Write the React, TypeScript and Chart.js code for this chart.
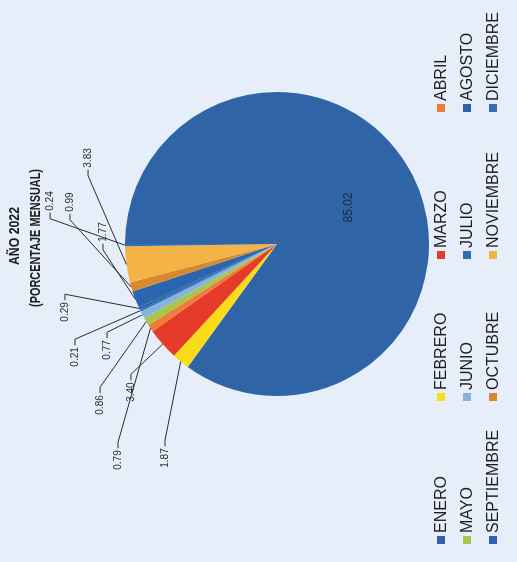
import React, { useEffect, useRef } from "react";
import { Chart, registerables } from "chart.js";

Chart.register(...registerables);

// ---- data ----
const months = [
  "ENERO", "FEBRERO", "MARZO", "ABRIL", "MAYO", "JUNIO",
  "JULIO", "AGOSTO", "SEPTIEMBRE", "OCTUBRE", "NOVIEMBRE", "DICIEMBRE",
];
const percentages = [85.02, 1.87, 3.4, 0.79, 0.86, 0.77, 0.21, 0.29, 1.77, 0.99, 3.83, 0.24];
const sliceColors = [
  "#2f65a6", "#f8dc1a", "#e63b2a", "#ef7c38", "#a9c64c", "#86b4e0",
  "#2f6cb3", "#2d63a8", "#2a66b0", "#d8892e", "#f4b347", "#3470b8",
];
const titleLines = ["AÑO 2022", "(PORCENTAJE MENSUAL)"];

// ---- layout (label callout positions, in pie-radius units from the centre) ----
const calloutOffsets: (number[] | null)[] = [
  null,
  [-1.408, -0.737],
  [-0.974, -0.961],
  [-1.421, -1.046],
  [-1.059, -1.164],
  [-0.697, -1.118],
  [-0.743, -1.329],
  [-0.447, -1.395],
  [0.079, -1.145],
  [0.276, -1.362],
  [0.566, -1.243],
  [0.283, -1.493],
];
const legendRows = [441, 467, 493];
const legendCols = [18, 161, 303, 450];
const W = 562;
const H = 517;

const overlayPlugin = {
  id: "overlay",
  afterDatasetsDraw(chart: any) {
    const ctx = chart.ctx as CanvasRenderingContext2D;
    const meta = chart.getDatasetMeta(0);
    ctx.save();
    meta.data.forEach((arc: any, i: number) => {
      const p = arc.getProps(["x", "y", "startAngle", "endAngle", "outerRadius"], true);
      const mid = (p.startAngle + p.endAngle) / 2;
      const R = p.outerRadius;
      const txt = percentages[i].toFixed(2);
      if (i === 0) {
        ctx.font = "12px 'Liberation Sans', Arial, sans-serif";
        ctx.fillStyle = "#1b2a3f";
        ctx.textAlign = "center";
        ctx.textBaseline = "middle";
        ctx.fillText(txt, p.x + Math.cos(mid) * R * 0.53, p.y + Math.sin(mid) * R * 0.53);
        return;
      }
      const off = calloutOffsets[i];
      if (!off) return;
      const lx = p.x + off[0] * R;
      const ly = p.y + off[1] * R;
      const tx = p.x + Math.cos(mid) * R;
      const ty = p.y + Math.sin(mid) * R;
      ctx.font = "10px 'Liberation Sans', Arial, sans-serif";
      const w = ctx.measureText(txt).width;
      ctx.fillStyle = "#2a2a2a";
      ctx.textAlign = "center";
      ctx.textBaseline = "middle";
      ctx.fillText(txt, lx, ly);
      const dir = tx > lx ? 1 : -1;
      const ax = lx + dir * (w / 2 + 2);
      ctx.strokeStyle = "#2b2b2b";
      ctx.lineWidth = 1;
      ctx.beginPath();
      ctx.moveTo(ax, ly);
      ctx.lineTo(ax + dir * 6, ly);
      ctx.lineTo(tx, ty);
      ctx.stroke();
    });
    ctx.restore();
  },
  afterDraw(chart: any) {
    const ctx = chart.ctx as CanvasRenderingContext2D;
    const meta = chart.getDatasetMeta(0);
    const cx = meta.data[0] ? meta.data[0].x : W / 2;
    ctx.save();
    // title
    ctx.fillStyle = "#1e1e1e";
    ctx.textAlign = "center";
    ctx.textBaseline = "alphabetic";
    ctx.font = "bold 15px 'Liberation Sans', Arial, sans-serif";
    ctx.fillText(titleLines[0], cx + 8, 19, 58);
    ctx.fillText(titleLines[1], cx + 6, 40, 138);
    // legend
    ctx.font = "16px 'Liberation Sans', Arial, sans-serif";
    ctx.textAlign = "left";
    ctx.textBaseline = "middle";
    months.forEach((m, i) => {
      const row = Math.floor(i / 4);
      const col = i % 4;
      const x = legendCols[col];
      const y = legendRows[row];
      ctx.fillStyle = sliceColors[i];
      ctx.fillRect(x, y - 4, 8, 8);
      ctx.fillStyle = "#1e1e1e";
      ctx.fillText(m, x + 11, y + 1);
    });
    ctx.restore();
  },
};

export default function App() {
  const ref = useRef<HTMLCanvasElement | null>(null);
  useEffect(() => {
    if (!ref.current) return;
    const chart = new Chart(ref.current, {
      type: "pie",
      data: {
        labels: months,
        datasets: [
          {
            data: percentages,
            backgroundColor: sliceColors,
            borderWidth: 0,
          },
        ],
      },
      options: {
        responsive: false,
        animation: false,
        devicePixelRatio: 1,
        layout: { padding: { left: 166, right: 92, top: 125, bottom: 88 } },
        plugins: {
          legend: { display: false },
          tooltip: { enabled: false },
          title: { display: false },
        },
      },
      plugins: [overlayPlugin],
    });
    return () => chart.destroy();
  }, []);

  return (
    <div
      style={{
        position: "fixed",
        left: 0,
        top: 0,
        width: 517,
        height: 562,
        overflow: "hidden",
        background: "#e6eef9",
      }}
    >
      <div
        style={{
          position: "absolute",
          left: 0,
          top: 0,
          width: W,
          height: H,
          transformOrigin: "0 0",
          transform: `translateY(${W}px) rotate(-90deg)`,
        }}
      >
        <canvas ref={ref} width={W} height={H} style={{ width: W, height: H, display: "block" }} />
      </div>
    </div>
  );
}
